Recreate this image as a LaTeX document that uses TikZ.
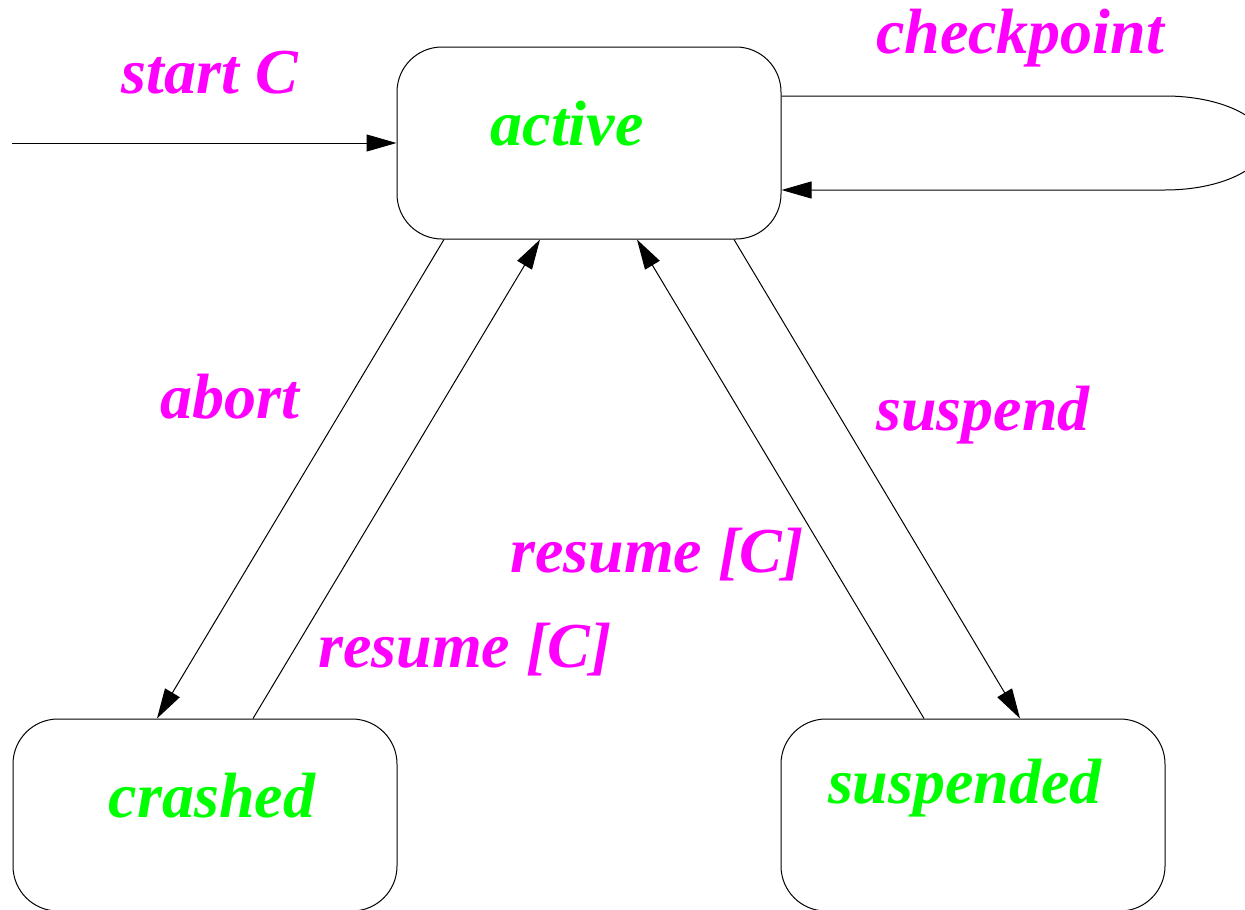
\documentclass[tikz,border=0pt]{standalone}
\usepackage{fontspec}
\setmainfont{Liberation Serif}
\usetikzlibrary{arrows.meta,calc}
\definecolor{lblmag}{HTML}{FF00FF}
\definecolor{lblgreen}{HTML}{00FF00}
\begin{document}
\begin{tikzpicture}[x=1pt,y=-1pt,
  statebox/.style={draw,line width=1pt,rounded corners=45pt,minimum width=384pt,minimum height=192pt,inner sep=0pt},
  evt/.style={text=lblmag,font=\fontsize{64}{70}\selectfont\bfseries\itshape,inner sep=0pt,anchor=base},
  stname/.style={text=lblgreen,font=\fontsize{64}{70}\selectfont\bfseries\itshape,inner sep=0pt,anchor=base},
  conn/.style={line width=1pt,-{Triangle[length=30pt,width=17pt]}}]
\useasboundingbox (0,0) rectangle (1245,910);
\node[statebox] (active) at (589,143) {};
\node[statebox] (crashed) at (205,815) {};
\node[statebox] (suspended) at (973,815) {};
\node[stname] (tactive) at (567,145) {active};
\node[stname] (tcrashed) at (212,817) {crashed};
\node[stname] (tsuspended) at (965,803) {suspended};
\node[evt] (lstart) at (210,93) {start C};
\node[evt] (lcheck) at (1020,53) {checkpoint};
\node[evt] (labort) at (230,418) {abort};
\node[evt] (lsuspend) at (983,430) {suspend};
\node[evt] (lres1) at (657,572) {resume [C]};
\node[evt] (lres2) at (465,667) {resume [C]};
\coordinate (startfree) at (12,143);
\coordinate (loopA) at (1165,96);
\draw[conn] (startfree) -- (active.west);
\draw[conn] ([yshift=47pt]active.east) -- (loopA) arc[start angle=90,end angle=-90,x radius=100pt,y radius=47pt] -- ([yshift=-47pt]active.east);
\draw[conn] ([xshift=-145pt]active.south) -- ([xshift=-48pt]crashed.north);
\draw[conn] ([xshift=48pt]crashed.north) -- ([xshift=-49pt]active.south);
\draw[conn] ([xshift=-49pt]suspended.north) -- ([xshift=48pt]active.south);
\draw[conn] ([xshift=145pt]active.south) -- ([xshift=47pt]suspended.north);
\end{tikzpicture}
\end{document}
